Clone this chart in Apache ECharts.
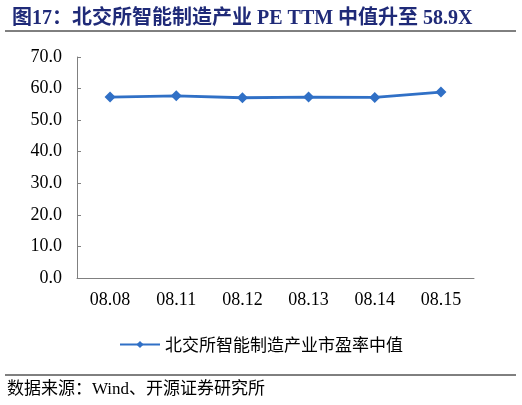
<!DOCTYPE html>
<html lang="zh">
<head>
  <meta charset="UTF-8">
  <title>北交所智能制造产业 PE TTM</title>
  <script src="https://cdn.jsdelivr.net/npm/echarts@6.0.0/dist/echarts.min.js"></script>
  <style>
    body { margin: 0; padding: 0; background: #fff; }
    #chart { width: 522px; height: 405px; }
  </style>
</head>
<body>
<div id="chart"></div>
<script>
  // 数据
  const dates = ['08.08', '08.11', '08.12', '08.13', '08.14', '08.15'];
  const peMedian = [57.3, 57.7, 57.1, 57.3, 57.2, 58.9];
  const seriesName = '北交所智能制造产业市盈率中值';

  const serif = "'Liberation Serif', 'Times New Roman', 'Noto Sans CJK SC', serif";
  const lineColor = '#3070C6';
  const axisColor = '#808080';

  const chart = echarts.init(document.getElementById('chart'));

  const option = {
    animation: false,
    title: {
      text: '图17：北交所智能制造产业 PE TTM 中值升至 58.9X',
      left: 7,
      top: 4,
      textStyle: {
        fontFamily: serif,
        fontSize: 20,
        fontWeight: 'bold',
        color: '#1F2A78'
      }
    },
    grid: {
      left: 77,
      right: 48,
      top: 57,
      bottom: 127
    },
    legend: {
      left: 'center',
      top: 331,
      itemWidth: 40,
      itemHeight: 9,
      itemGap: 6,
      data: [seriesName],
      textStyle: {
        fontFamily: "'Noto Sans CJK SC', sans-serif",
        fontSize: 17,
        color: '#000'
      }
    },
    xAxis: {
      type: 'category',
      data: dates,
      boundaryGap: true,
      axisLine: { lineStyle: { color: axisColor, width: 1 } },
      axisTick: { inside: true, length: 4, lineStyle: { color: axisColor } },
      axisLabel: {
        margin: 13,
        fontFamily: serif,
        fontSize: 18,
        color: '#000'
      }
    },
    yAxis: {
      type: 'value',
      min: 0,
      max: 70,
      interval: 10,
      splitLine: { show: false },
      axisLine: { show: true, lineStyle: { color: axisColor, width: 1 } },
      axisTick: { show: true, inside: true, length: 4, lineStyle: { color: axisColor } },
      axisLabel: {
        margin: 15,
        fontFamily: serif,
        fontSize: 18,
        color: '#000',
        formatter: v => v.toFixed(1)
      }
    },
    series: [
      {
        name: seriesName,
        type: 'line',
        data: peMedian,
        symbol: 'diamond',
        symbolSize: 11,
        itemStyle: { color: lineColor },
        lineStyle: { color: lineColor, width: 2.8 }
      }
    ],
    graphic: [
      {
        type: 'line',
        shape: { x1: 5, y1: 31, x2: 516, y2: 31 },
        style: { stroke: '#000', lineWidth: 1 }
      },
      {
        type: 'line',
        shape: { x1: 5, y1: 375, x2: 516, y2: 375 },
        style: { stroke: '#000', lineWidth: 1 }
      },
      {
        type: 'text',
        left: 7,
        top: 381,
        style: {
          text: '数据来源：Wind、开源证券研究所',
          font: "17px 'Liberation Serif', 'Noto Sans CJK SC', serif",
          fill: '#000'
        }
      }
    ]
  };

  chart.setOption(option);
</script>
</body>
</html>
